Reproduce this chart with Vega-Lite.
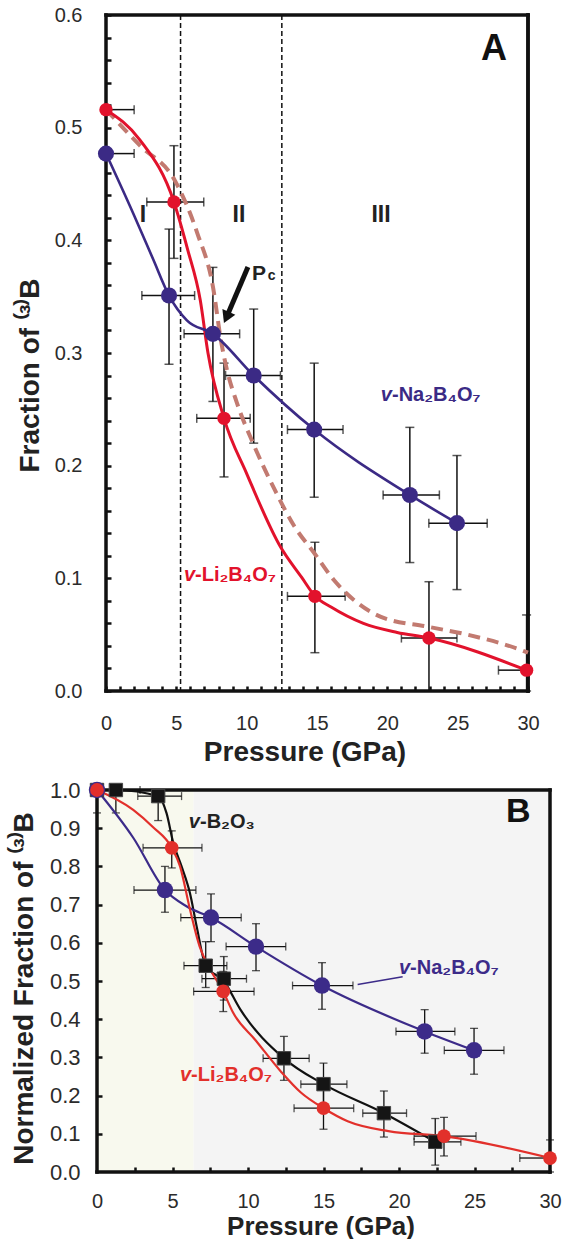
{
"$schema": "https://vega.github.io/schema/vega-lite/v6.json",
"padding": {"left": 10, "top": 5, "right": 0, "bottom": 0},
"background": "white",
"spacing": 99,
"bounds": "flush",
"config": {"view": {"stroke": null}, "axis": {"grid": false, "labelFont": "Liberation Sans", "titleFont": "Liberation Sans"}, "text": {"font": "Liberation Sans"}},
"datasets": {
"frameA": [{"x1":0,"x2":30,"y1":0.6,"y2":0.6},{"x1":30,"x2":30,"y1":0,"y2":0.6},{"x1":0,"x2":30,"y1":0,"y2":0},{"x1":0,"x2":0,"y1":0,"y2":0.6}],
"vlinesA": [{"P":5.3},{"P":12.5}],
"ptsA": [
{"s":"Na","P":0,"F":0.477,"xlo":0,"xhi":2.0,"ylo":null,"yhi":null},
{"s":"Na","P":4.48,"F":0.351,"xlo":2.55,"xhi":6.3,"ylo":0.29,"yhi":0.41},
{"s":"Na","P":7.6,"F":0.317,"xlo":5.55,"xhi":9.5,"ylo":0.257,"yhi":0.376},
{"s":"Na","P":10.5,"F":0.28,"xlo":8.5,"xhi":12.4,"ylo":0.22,"yhi":0.339},
{"s":"Na","P":14.8,"F":0.232,"xlo":12.9,"xhi":16.85,"ylo":0.172,"yhi":0.291},
{"s":"Na","P":21.6,"F":0.174,"xlo":19.7,"xhi":23.7,"ylo":0.114,"yhi":0.234},
{"s":"Na","P":24.95,"F":0.149,"xlo":22.95,"xhi":27.1,"ylo":0.09,"yhi":0.209},
{"s":"Li","P":0,"F":0.516,"xlo":0,"xhi":2.0,"ylo":null,"yhi":null},
{"s":"Li","P":4.83,"F":0.434,"xlo":2.9,"xhi":6.95,"ylo":0.384,"yhi":0.484},
{"s":"Li","P":8.39,"F":0.242,"xlo":6.45,"xhi":10.25,"ylo":0.19,"yhi":0.291},
{"s":"Li","P":14.85,"F":0.084,"xlo":12.9,"xhi":17.0,"ylo":0.034,"yhi":0.132},
{"s":"Li","P":22.96,"F":0.047,"xlo":21.0,"xhi":24.95,"ylo":0,"yhi":0.097},
{"s":"Li","P":29.9,"F":0.0185,"xlo":27.9,"xhi":30,"ylo":0,"yhi":0.0675}
],
"curveA": [
{"s":"Na","P":0,"F":0.477},{"s":"Na","P":1.93,"F":0.424},{"s":"Na","P":3.36,"F":0.383},{"s":"Na","P":4.48,"F":0.351},{"s":"Na","P":5.75,"F":0.329},{"s":"Na","P":7.6,"F":0.317},{"s":"Na","P":10.5,"F":0.28},{"s":"Na","P":14.8,"F":0.232},{"s":"Na","P":21.6,"F":0.174},{"s":"Na","P":24.95,"F":0.149},
{"s":"Li","P":0,"F":0.516},{"s":"Li","P":2.42,"F":0.489},{"s":"Li","P":4.83,"F":0.434},{"s":"Li","P":5.8,"F":0.392},{"s":"Li","P":6.7,"F":0.347},{"s":"Li","P":7.25,"F":0.3},{"s":"Li","P":8.39,"F":0.242},{"s":"Li","P":10,"F":0.193},{"s":"Li","P":12.4,"F":0.128},{"s":"Li","P":13.9,"F":0.101},{"s":"Li","P":14.85,"F":0.0843},{"s":"Li","P":16,"F":0.0745},{"s":"Li","P":18.3,"F":0.06},{"s":"Li","P":20.7,"F":0.052},{"s":"Li","P":22.96,"F":0.047},{"s":"Li","P":29.9,"F":0.0185},
{"s":"dash","P":0,"F":0.516},{"s":"dash","P":2.42,"F":0.484},{"s":"dash","P":4.9,"F":0.453},{"s":"dash","P":6.5,"F":0.406},{"s":"dash","P":7.6,"F":0.359},{"s":"dash","P":8.2,"F":0.309},{"s":"dash","P":8.6,"F":0.285},{"s":"dash","P":9.3,"F":0.256},{"s":"dash","P":10.45,"F":0.22},{"s":"dash","P":12.1,"F":0.176},{"s":"dash","P":13.4,"F":0.146},{"s":"dash","P":14.8,"F":0.1225},{"s":"dash","P":16.2,"F":0.0985},{"s":"dash","P":17.6,"F":0.081},{"s":"dash","P":19.5,"F":0.066},{"s":"dash","P":22.9,"F":0.057},{"s":"dash","P":25.7,"F":0.05},{"s":"dash","P":29.5,"F":0.0364},{"s":"dash","P":30,"F":0.034}
],
"arrowA": [{"P":10.09,"F":0.3763,"P2":8.56,"F2":0.3315}],
"headA": [{"P":8.56,"F":0.3315}],
"labA": [
{"id":"rom","P":2.63,"F":0.4225,"t":"I"},{"id":"rom","P":9.45,"F":0.4225,"t":"II"},{"id":"rom","P":19.55,"F":0.4225,"t":"III"},
{"id":"panel","P":27.58,"F":0.57,"t":"A"},
{"id":"P","P":10.38,"F":0.3648,"t":"P"},{"id":"c","P":11.5,"F":0.3648,"t":"c"},
{"id":"naV","P":20.33,"F":0.2627,"t":"v"},{"id":"naT","P":20.33,"F":0.2627,"t":"-Na₂B₄O₇"},
{"id":"liV","P":6.33,"F":0.103,"t":"v"},{"id":"liT","P":6.33,"F":0.103,"t":"-Li₂B₄O₇"}
],
"frameB": [{"x1":0,"x2":30,"y1":1,"y2":1},{"x1":30,"x2":30,"y1":0,"y2":1},{"x1":0,"x2":30,"y1":0,"y2":0},{"x1":0,"x2":0,"y1":0,"y2":1}],
"bgB": [{"x1":0,"x2":6.4,"y1":0,"y2":1,"reg":"low"},{"x1":6.4,"x2":30,"y1":0,"y2":1,"reg":"high"}],
"ptsB": [
{"s":"Na","P":0,"F":1.0,"xlo":null,"xhi":null,"ylo":null,"yhi":null},
{"s":"Na","P":4.5,"F":0.738,"xlo":2.45,"xhi":6.55,"ylo":0.68,"yhi":0.8},
{"s":"Na","P":7.55,"F":0.666,"xlo":5.55,"xhi":9.55,"ylo":0.603,"yhi":0.728},
{"s":"Na","P":10.53,"F":0.59,"xlo":8.55,"xhi":12.5,"ylo":0.527,"yhi":0.65},
{"s":"Na","P":14.9,"F":0.488,"xlo":12.95,"xhi":16.95,"ylo":0.426,"yhi":0.548},
{"s":"Na","P":21.7,"F":0.368,"xlo":19.8,"xhi":23.7,"ylo":0.311,"yhi":0.425},
{"s":"Na","P":24.97,"F":0.3185,"xlo":23.0,"xhi":26.95,"ylo":0.256,"yhi":0.376},
{"s":"Li","P":0,"F":1.0,"xlo":null,"xhi":null,"ylo":null,"yhi":null},
{"s":"Li","P":4.95,"F":0.8486,"xlo":3.05,"xhi":6.95,"ylo":0.796,"yhi":0.893},
{"s":"Li","P":8.36,"F":0.4726,"xlo":6.4,"xhi":10.4,"ylo":0.42,"yhi":0.525},
{"s":"Li","P":15.0,"F":0.167,"xlo":13.05,"xhi":17.0,"ylo":0.112,"yhi":0.222},
{"s":"Li","P":22.98,"F":0.094,"xlo":21.0,"xhi":25.1,"ylo":0.042,"yhi":0.143},
{"s":"Li","P":30,"F":0.0366,"xlo":28.0,"xhi":30,"ylo":0,"yhi":0.084},
{"s":"B","P":0,"F":1.0,"xlo":null,"xhi":null,"ylo":0.94,"yhi":1.0},
{"s":"B","P":1.25,"F":1.0,"xlo":0,"xhi":2.85,"ylo":0.94,"yhi":1.0},
{"s":"B","P":4.05,"F":0.984,"xlo":2.7,"xhi":5.6,"ylo":0.92,"yhi":1.0},
{"s":"B","P":7.2,"F":0.54,"xlo":5.76,"xhi":8.6,"ylo":0.483,"yhi":0.603},
{"s":"B","P":8.4,"F":0.506,"xlo":6.95,"xhi":9.9,"ylo":0.45,"yhi":0.564},
{"s":"B","P":12.38,"F":0.2976,"xlo":11.0,"xhi":14.05,"ylo":0.24,"yhi":0.355},
{"s":"B","P":15.0,"F":0.23,"xlo":13.5,"xhi":16.55,"ylo":0.175,"yhi":0.285},
{"s":"B","P":19.0,"F":0.154,"xlo":17.6,"xhi":20.5,"ylo":0.0915,"yhi":0.212},
{"s":"B","P":22.4,"F":0.079,"xlo":21.0,"xhi":24.1,"ylo":0.018,"yhi":0.14}
],
"curveB": [
{"s":"Na","P":0,"F":1},{"s":"Na","P":2.4,"F":0.875},{"s":"Na","P":4.5,"F":0.738},{"s":"Na","P":5.95,"F":0.695},{"s":"Na","P":7.55,"F":0.666},{"s":"Na","P":10.53,"F":0.59},{"s":"Na","P":14.9,"F":0.488},{"s":"Na","P":21.7,"F":0.368},{"s":"Na","P":24.97,"F":0.3185},
{"s":"Li","P":0,"F":1},{"s":"Li","P":2.4,"F":0.948},{"s":"Li","P":3.7,"F":0.903},{"s":"Li","P":4.95,"F":0.8486},{"s":"Li","P":5.5,"F":0.8},{"s":"Li","P":6.16,"F":0.687},{"s":"Li","P":6.8,"F":0.59},{"s":"Li","P":7.5,"F":0.53},{"s":"Li","P":8.36,"F":0.4726},{"s":"Li","P":9,"F":0.418},{"s":"Li","P":10.5,"F":0.345},{"s":"Li","P":12.2,"F":0.262},{"s":"Li","P":13.5,"F":0.208},{"s":"Li","P":15,"F":0.167},{"s":"Li","P":16.6,"F":0.133},{"s":"Li","P":19.3,"F":0.107},{"s":"Li","P":22.98,"F":0.094},{"s":"Li","P":30,"F":0.0366},
{"s":"B","P":0,"F":1},{"s":"B","P":1.25,"F":1.0},{"s":"B","P":4.05,"F":0.984},{"s":"B","P":4.6,"F":0.94},{"s":"B","P":5.05,"F":0.862},{"s":"B","P":5.6,"F":0.8},{"s":"B","P":6.15,"F":0.731},{"s":"B","P":6.6,"F":0.643},{"s":"B","P":7.2,"F":0.54},{"s":"B","P":8.4,"F":0.5},{"s":"B","P":9.5,"F":0.425},{"s":"B","P":12.38,"F":0.2976},{"s":"B","P":15,"F":0.23},{"s":"B","P":19,"F":0.154},{"s":"B","P":22.4,"F":0.079}
],
"leaderB": [{"P":17.26,"F":0.491,"P2":20.24,"F2":0.511}],
"labB": [
{"id":"panel","P":27.9,"F":0.942,"t":"B"},
{"id":"bV","P":6.82,"F":0.916,"t":"v"},{"id":"bT","P":6.82,"F":0.916,"t":"-B₂O₃"},
{"id":"naV","P":20.73,"F":0.534,"t":"v"},{"id":"naT","P":20.73,"F":0.534,"t":"-Na₂B₄O₇"},
{"id":"liV","P":6.23,"F":0.254,"t":"v"},{"id":"liT","P":6.23,"F":0.254,"t":"-Li₂B₄O₇"}
]
},
"vconcat": [
{
"width": 431, "height": 676,
"resolve": {"axis": {"x": "independent", "y": "independent"}},
"layer": [
{"data": {"name": "vlinesA"}, "mark": {"type": "rule", "color": "#111", "strokeWidth": 1.5, "strokeDash": [5, 3]},
 "encoding": {
  "x": {"field": "P", "type": "quantitative", "scale": {"domain": [-0.64, 30], "nice": false, "zero": false},
   "axis": {"orient": "bottom", "title": null, "values": [0,1,2,3,4,5,6,7,8,9,10,11,12,13,14,15,16,17,18,19,20,21,22,23,24,25,26,27,28,29,30],
    "labels": false, "domain": false, "ticks": true, "tickSize": -5, "tickWidth": 2.5, "tickColor": "#111"}}}},
{"data": {"name": "frameA"}, "mark": {"type": "rule", "color": "#111", "strokeWidth": 3.5, "strokeCap": "square"},
 "encoding": {
  "x": {"field": "x1", "type": "quantitative",
   "axis": {"orient": "bottom", "title": "Pressure (GPa)", "values": [0,5,10,15,20,25,30], "format": "d", "domain": false, "ticks": false,
    "labelPadding": 22, "labelFontSize": 20, "labelColor": "#2b2b2b", "labelFlush": false, "labelOverlap": false,
    "titleFontSize": 28, "titleFontWeight": "bold", "titleColor": "#222", "titlePadding": 5, "titleX": 207.5}},
  "x2": {"field": "x2"},
  "y": {"field": "y1", "type": "quantitative", "scale": {"domain": [0, 0.6], "nice": false, "zero": false},
   "axis": {"orient": "left", "title": "Fraction of ⁽³⁾B", "values": [0,0.1,0.2,0.3,0.4,0.5,0.6], "format": ".1f", "offset": -9, "domain": false, "ticks": false,
    "labelPadding": 24, "labelFontSize": 20, "labelColor": "#2b2b2b", "labelFlush": false, "labelOverlap": false,
    "titleFontSize": 28, "titleFontWeight": "bold", "titleColor": "#222", "titlePadding": 10, "titleY": 360}},
  "y2": {"field": "y2"}}},
{"data": {"name": "frameA"}, "transform": [{"filter": "datum.x1 == 30"}], "mark": {"type": "rule", "color": "#111", "strokeWidth": 3.5, "strokeCap": "square"},
 "encoding": {
  "x": {"field": "x1", "type": "quantitative", "axis": null},
  "y": {"field": "y1", "type": "quantitative",
   "axis": {"orient": "left", "title": null, "values": [0,0.02,0.04,0.06,0.08,0.1,0.12,0.14,0.16,0.18,0.2,0.22,0.24,0.26,0.28,0.3,0.32,0.34,0.36,0.38,0.4,0.42,0.44,0.46,0.48,0.5,0.52,0.54,0.56,0.58,0.6],
    "labels": false, "offset": -9, "domain": false, "ticks": true, "tickSize": -5, "tickWidth": 2.5, "tickColor": "#111"}},
  "y2": {"field": "y2"}}},
{"data": {"name": "ptsA"}, "transform": [{"filter": "isValid(datum.xlo)"}], "mark": {"type": "errorbar", "ticks": true, "size": 9, "thickness": 1.5, "color": "#111"},
 "encoding": {"x": {"field": "xlo", "type": "quantitative", "axis": null}, "x2": {"field": "xhi"}, "y": {"field": "F", "type": "quantitative", "axis": null}}},
{"data": {"name": "ptsA"}, "transform": [{"filter": "isValid(datum.ylo)"}], "mark": {"type": "errorbar", "ticks": true, "size": 9, "thickness": 1.5, "color": "#111"},
 "encoding": {"y": {"field": "ylo", "type": "quantitative", "axis": null}, "y2": {"field": "yhi"}, "x": {"field": "P", "type": "quantitative", "axis": null}}},
{"data": {"name": "curveA"}, "transform": [{"filter": "datum.s == 'dash'"}], "mark": {"type": "line", "color": "#c27a70", "strokeWidth": 4, "strokeDash": [12, 7], "interpolate": "monotone"},
 "encoding": {"x": {"field": "P", "type": "quantitative", "axis": null}, "y": {"field": "F", "type": "quantitative", "axis": null}}},
{"data": {"name": "curveA"}, "transform": [{"filter": "datum.s == 'Li'"}], "mark": {"type": "line", "color": "#e2122c", "strokeWidth": 3, "interpolate": "monotone"},
 "encoding": {"x": {"field": "P", "type": "quantitative", "axis": null}, "y": {"field": "F", "type": "quantitative", "axis": null}}},
{"data": {"name": "curveA"}, "transform": [{"filter": "datum.s == 'Na'"}], "mark": {"type": "line", "color": "#3b2a85", "strokeWidth": 2.6, "interpolate": "monotone"},
 "encoding": {"x": {"field": "P", "type": "quantitative", "axis": null}, "y": {"field": "F", "type": "quantitative", "axis": null}}},
{"data": {"name": "ptsA"}, "transform": [{"filter": "datum.s == 'Na'"}], "mark": {"type": "circle", "color": "#3b2a85", "size": 260, "opacity": 1},
 "encoding": {"x": {"field": "P", "type": "quantitative", "axis": null}, "y": {"field": "F", "type": "quantitative", "axis": null}}},
{"data": {"name": "ptsA"}, "transform": [{"filter": "datum.s == 'Li'"}], "mark": {"type": "circle", "color": "#e2122c", "size": 180, "opacity": 1},
 "encoding": {"x": {"field": "P", "type": "quantitative", "axis": null}, "y": {"field": "F", "type": "quantitative", "axis": null}}},
{"data": {"name": "arrowA"}, "mark": {"type": "rule", "color": "#111", "strokeWidth": 5},
 "encoding": {"x": {"field": "P", "type": "quantitative", "axis": null}, "y": {"field": "F", "type": "quantitative", "axis": null}, "x2": {"field": "P2"}, "y2": {"field": "F2"}}},
{"data": {"name": "headA"}, "mark": {"type": "point", "shape": "triangle-up", "filled": true, "color": "#111", "size": 200, "angle": 203.6, "opacity": 1},
 "encoding": {"x": {"field": "P", "type": "quantitative", "axis": null}, "y": {"field": "F", "type": "quantitative", "axis": null}}},
{"data": {"name": "labA"}, "transform": [{"filter": "datum.id == 'rom'"}], "mark": {"type": "text", "fontSize": 23, "fontWeight": "bold", "color": "#222", "align": "center", "baseline": "middle"},
 "encoding": {"x": {"field": "P", "type": "quantitative", "axis": null}, "y": {"field": "F", "type": "quantitative", "axis": null}, "text": {"field": "t"}}},
{"data": {"name": "labA"}, "transform": [{"filter": "datum.id == 'panel'"}], "mark": {"type": "text", "fontSize": 36, "fontWeight": "bold", "color": "#111", "align": "center", "baseline": "middle"},
 "encoding": {"x": {"field": "P", "type": "quantitative", "axis": null}, "y": {"field": "F", "type": "quantitative", "axis": null}, "text": {"field": "t"}}},
{"data": {"name": "labA"}, "transform": [{"filter": "datum.id == 'P'"}], "mark": {"type": "text", "fontSize": 21, "fontWeight": "bold", "color": "#222", "align": "left", "baseline": "alphabetic"},
 "encoding": {"x": {"field": "P", "type": "quantitative", "axis": null}, "y": {"field": "F", "type": "quantitative", "axis": null}, "text": {"field": "t"}}},
{"data": {"name": "labA"}, "transform": [{"filter": "datum.id == 'c'"}], "mark": {"type": "text", "fontSize": 14, "fontWeight": "bold", "color": "#222", "align": "left", "baseline": "alphabetic"},
 "encoding": {"x": {"field": "P", "type": "quantitative", "axis": null}, "y": {"field": "F", "type": "quantitative", "axis": null}, "text": {"field": "t"}}},
{"data": {"name": "labA"}, "transform": [{"filter": "datum.id == 'naV'"}], "mark": {"type": "text", "fontSize": 20, "fontWeight": "bold", "fontStyle": "italic", "color": "#3b2a85", "align": "right", "baseline": "middle"},
 "encoding": {"x": {"field": "P", "type": "quantitative", "axis": null}, "y": {"field": "F", "type": "quantitative", "axis": null}, "text": {"field": "t"}}},
{"data": {"name": "labA"}, "transform": [{"filter": "datum.id == 'naT'"}], "mark": {"type": "text", "fontSize": 20, "fontWeight": "bold", "color": "#3b2a85", "align": "left", "baseline": "middle"},
 "encoding": {"x": {"field": "P", "type": "quantitative", "axis": null}, "y": {"field": "F", "type": "quantitative", "axis": null}, "text": {"field": "t"}}},
{"data": {"name": "labA"}, "transform": [{"filter": "datum.id == 'liV'"}], "mark": {"type": "text", "fontSize": 20, "fontWeight": "bold", "fontStyle": "italic", "color": "#e2122c", "align": "right", "baseline": "middle"},
 "encoding": {"x": {"field": "P", "type": "quantitative", "axis": null}, "y": {"field": "F", "type": "quantitative", "axis": null}, "text": {"field": "t"}}},
{"data": {"name": "labA"}, "transform": [{"filter": "datum.id == 'liT'"}], "mark": {"type": "text", "fontSize": 20, "fontWeight": "bold", "color": "#e2122c", "align": "left", "baseline": "middle"},
 "encoding": {"x": {"field": "P", "type": "quantitative", "axis": null}, "y": {"field": "F", "type": "quantitative", "axis": null}, "text": {"field": "t"}}}
]
},
{
"width": 453, "height": 382,
"resolve": {"axis": {"x": "independent", "y": "independent"}},
"layer": [
 {"data": {"name": "bgB"}, "transform": [{"filter": "datum.reg == 'low'"}], "mark": {"type": "rect", "color": "#f8f9ee"},
  "encoding": {
   "x": {"field": "x1", "type": "quantitative", "scale": {"domain": [0, 30], "nice": false, "zero": false},
    "axis": {"orient": "bottom", "values": [2.5,5,7.5,10,12.5,15,17.5,20,22.5,25,27.5], "labels": false, "domain": false, "title": null, "ticks": true, "tickSize": -5, "tickWidth": 2.5, "tickColor": "#111", "zindex": 1}},
   "x2": {"field": "x2"},
   "y": {"field": "y1", "type": "quantitative", "scale": {"domain": [0, 1], "nice": false, "zero": false},
    "axis": {"orient": "left", "values": [0.1,0.2,0.3,0.4,0.5,0.6,0.7,0.8,0.9], "labels": false, "domain": false, "title": null, "ticks": true, "tickSize": -5, "tickWidth": 2.5, "tickColor": "#111", "zindex": 1}},
   "y2": {"field": "y2"}}},
 {"data": {"name": "bgB"}, "transform": [{"filter": "datum.reg == 'high'"}], "mark": {"type": "rect", "color": "#f4f4f4"},
  "encoding": {"x": {"field": "x1", "type": "quantitative", "axis": null}, "x2": {"field": "x2"}, "y": {"field": "y1", "type": "quantitative", "axis": null}, "y2": {"field": "y2"}}},
 {"data": {"name": "frameB"}, "mark": {"type": "rule", "color": "#111", "strokeWidth": 3.5, "strokeCap": "square"},
  "encoding": {
   "x": {"field": "x1", "type": "quantitative",
    "axis": {"orient": "bottom", "title": "Pressure (GPa)", "values": [0,5,10,15,20,25,30], "format": "d", "ticks": false, "domain": false,
     "labelPadding": 19, "labelFontSize": 20, "labelColor": "#2b2b2b", "labelFlush": false, "labelOverlap": false,
     "titleFontSize": 26, "titleFontWeight": "bold", "titleColor": "#222", "titlePadding": 2, "titleX": 223.5, "zindex": 0}},
   "x2": {"field": "x2"},
   "y": {"field": "y1", "type": "quantitative",
    "axis": {"orient": "left", "title": "Normalized Fraction of ⁽³⁾B", "values": [0,0.1,0.2,0.3,0.4,0.5,0.6,0.7,0.8,0.9,1], "format": ".1f", "ticks": false, "domain": false,
     "labelPadding": 17, "labelFontSize": 22, "labelColor": "#2b2b2b", "labelFlush": false, "labelOverlap": false,
     "titleFontSize": 28, "titleFontWeight": "bold", "titleColor": "#222", "titlePadding": 11, "titleY": 198, "zindex": 0}},
   "y2": {"field": "y2"}}},
 {"data": {"name": "ptsB"}, "transform": [{"filter": "isValid(datum.xlo)"}], "mark": {"type": "errorbar", "ticks": true, "size": 8, "thickness": 1.3, "color": "#111"},
  "encoding": {"x": {"field": "xlo", "type": "quantitative", "axis": null}, "x2": {"field": "xhi"}, "y": {"field": "F", "type": "quantitative", "axis": null}}},
 {"data": {"name": "ptsB"}, "transform": [{"filter": "isValid(datum.ylo)"}], "mark": {"type": "errorbar", "ticks": true, "size": 8, "thickness": 1.3, "color": "#111"},
  "encoding": {"y": {"field": "ylo", "type": "quantitative", "axis": null}, "y2": {"field": "yhi"}, "x": {"field": "P", "type": "quantitative", "axis": null}}},
 {"data": {"name": "curveB"}, "transform": [{"filter": "datum.s == 'B'"}], "mark": {"type": "line", "color": "#111", "strokeWidth": 2.2, "interpolate": "monotone"},
  "encoding": {"x": {"field": "P", "type": "quantitative", "axis": null}, "y": {"field": "F", "type": "quantitative", "axis": null}}},
 {"data": {"name": "curveB"}, "transform": [{"filter": "datum.s == 'Na'"}], "mark": {"type": "line", "color": "#3c2b89", "strokeWidth": 2.2, "interpolate": "monotone"},
  "encoding": {"x": {"field": "P", "type": "quantitative", "axis": null}, "y": {"field": "F", "type": "quantitative", "axis": null}}},
 {"data": {"name": "curveB"}, "transform": [{"filter": "datum.s == 'Li'"}], "mark": {"type": "line", "color": "#e2302b", "strokeWidth": 2.2, "interpolate": "monotone"},
  "encoding": {"x": {"field": "P", "type": "quantitative", "axis": null}, "y": {"field": "F", "type": "quantitative", "axis": null}}},
 {"data": {"name": "leaderB"}, "mark": {"type": "rule", "color": "#3c2b89", "strokeWidth": 1.5},
  "encoding": {"x": {"field": "P", "type": "quantitative", "axis": null}, "y": {"field": "F", "type": "quantitative", "axis": null}, "x2": {"field": "P2"}, "y2": {"field": "F2"}}},
 {"data": {"name": "ptsB"}, "transform": [{"filter": "datum.s == 'B'"}], "mark": {"type": "square", "color": "#151515", "size": 180, "opacity": 1, "stroke": "#444", "strokeWidth": 1},
  "encoding": {"x": {"field": "P", "type": "quantitative", "axis": null}, "y": {"field": "F", "type": "quantitative", "axis": null}}},
 {"data": {"name": "ptsB"}, "transform": [{"filter": "datum.s == 'Na'"}], "mark": {"type": "circle", "color": "#3c2b89", "size": 270, "opacity": 1},
  "encoding": {"x": {"field": "P", "type": "quantitative", "axis": null}, "y": {"field": "F", "type": "quantitative", "axis": null}}},
 {"data": {"name": "ptsB"}, "transform": [{"filter": "datum.s == 'Li'"}], "mark": {"type": "circle", "color": "#e2302b", "size": 190, "opacity": 1},
  "encoding": {"x": {"field": "P", "type": "quantitative", "axis": null}, "y": {"field": "F", "type": "quantitative", "axis": null}}},
 {"data": {"name": "labB"}, "transform": [{"filter": "datum.id == 'panel'"}], "mark": {"type": "text", "fontSize": 34, "fontWeight": "bold", "color": "#111", "align": "center", "baseline": "middle"},
  "encoding": {"x": {"field": "P", "type": "quantitative", "axis": null}, "y": {"field": "F", "type": "quantitative", "axis": null}, "text": {"field": "t"}}},
 {"data": {"name": "labB"}, "transform": [{"filter": "datum.id == 'bV'"}], "mark": {"type": "text", "fontSize": 20, "fontWeight": "bold", "fontStyle": "italic", "color": "#222", "align": "right", "baseline": "middle"},
  "encoding": {"x": {"field": "P", "type": "quantitative", "axis": null}, "y": {"field": "F", "type": "quantitative", "axis": null}, "text": {"field": "t"}}},
 {"data": {"name": "labB"}, "transform": [{"filter": "datum.id == 'bT'"}], "mark": {"type": "text", "fontSize": 20, "fontWeight": "bold", "color": "#222", "align": "left", "baseline": "middle"},
  "encoding": {"x": {"field": "P", "type": "quantitative", "axis": null}, "y": {"field": "F", "type": "quantitative", "axis": null}, "text": {"field": "t"}}},
 {"data": {"name": "labB"}, "transform": [{"filter": "datum.id == 'naV'"}], "mark": {"type": "text", "fontSize": 20, "fontWeight": "bold", "fontStyle": "italic", "color": "#3c2b89", "align": "right", "baseline": "middle"},
  "encoding": {"x": {"field": "P", "type": "quantitative", "axis": null}, "y": {"field": "F", "type": "quantitative", "axis": null}, "text": {"field": "t"}}},
 {"data": {"name": "labB"}, "transform": [{"filter": "datum.id == 'naT'"}], "mark": {"type": "text", "fontSize": 20, "fontWeight": "bold", "color": "#3c2b89", "align": "left", "baseline": "middle"},
  "encoding": {"x": {"field": "P", "type": "quantitative", "axis": null}, "y": {"field": "F", "type": "quantitative", "axis": null}, "text": {"field": "t"}}},
 {"data": {"name": "labB"}, "transform": [{"filter": "datum.id == 'liV'"}], "mark": {"type": "text", "fontSize": 20, "fontWeight": "bold", "fontStyle": "italic", "color": "#e2302b", "align": "right", "baseline": "middle"},
  "encoding": {"x": {"field": "P", "type": "quantitative", "axis": null}, "y": {"field": "F", "type": "quantitative", "axis": null}, "text": {"field": "t"}}},
 {"data": {"name": "labB"}, "transform": [{"filter": "datum.id == 'liT'"}], "mark": {"type": "text", "fontSize": 20, "fontWeight": "bold", "color": "#e2302b", "align": "left", "baseline": "middle"},
  "encoding": {"x": {"field": "P", "type": "quantitative", "axis": null}, "y": {"field": "F", "type": "quantitative", "axis": null}, "text": {"field": "t"}}}
]
}
]
}
